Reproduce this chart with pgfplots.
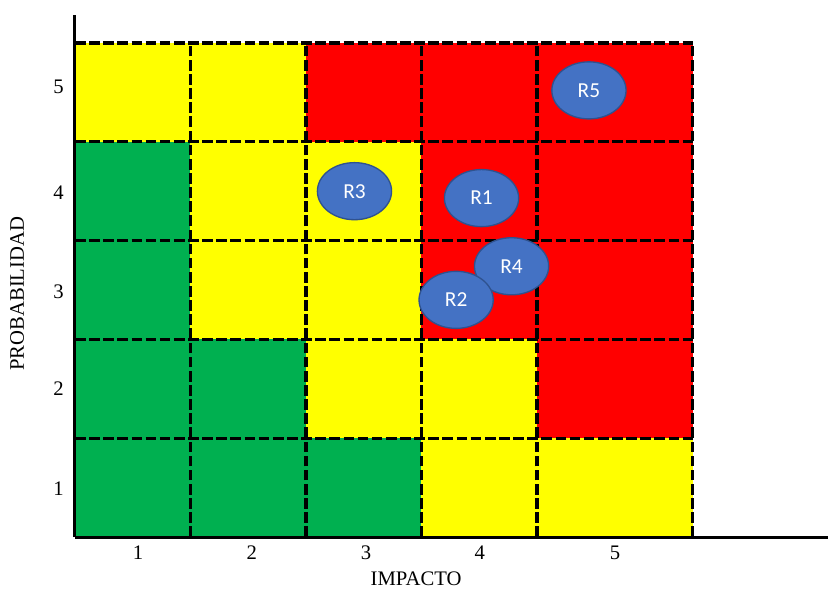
\documentclass[border=0pt]{standalone}
\usepackage{fontspec}
\setmainfont{Liberation Serif}
\newfontfamily\calibri{Carlito}
\usepackage{pgfplots}
\usepackage{pgfplotstable}
\pgfplotsset{compat=1.18}

\definecolor{cgreen}{HTML}{00B050}
\definecolor{cyellow}{HTML}{FFFF00}
\definecolor{cred}{HTML}{FF0000}
\definecolor{bubble}{HTML}{4472C4}
\definecolor{bubbleedge}{HTML}{2F528F}

% risks placed by impact (x) and probability (y)
\pgfplotstableread{
x    y    label
4.95 5.02 R5
2.92 4.00 R3
4.02 3.93 R1
4.28 3.24 R4
3.80 2.90 R2
}\risks

% one cell of the matrix: x0 x1 y0 y1 colour
\newcommand{\cell}[5]{\addplot[fill=#5, draw=none] coordinates {(#1,#3) (#2,#3) (#2,#4) (#1,#4)} --cycle;}
\tikzset{griddash/.style={black, line width=2.4pt, dash pattern=on 8pt off 2.6pt}}

\begin{document}
\begin{tikzpicture}
\begin{axis}[
  scale only axis,
  width=564.75pt, height=391.5pt,
  xmin=0.5, xmax=7.02, ymin=0.5, ymax=5.783,
  axis lines=left,
  axis line style={-, line width=2.25pt},
  axis on top,
  xtick={1.045,2.03,3.02,4.006,5.175}, xticklabels={1,2,3,4,5},
  ytick={0.99,2.0,2.98,3.98,5.06}, yticklabels={1,2,3,4,5},
  major tick length=0pt,
  /pgf/number format/assume math mode=true,
  tick label style={font=\fontsize{15.5}{18}\selectfont},
  xticklabel style={yshift=-3pt},
  yticklabel style={xshift=-5pt},
  xlabel={IMPACTO},
  ylabel={PROBABILIDAD},
  label style={font=\fontsize{15.5}{18}\selectfont},
  xlabel style={at={(axis description cs:0.453,-0.0805)}, anchor=center},
  ylabel style={at={(axis description cs:-0.077,0.466)}, anchor=center, rotate=0},
]
% row 1
\cell{0.5}{1.5}{0.5}{1.5}{cgreen}
\cell{1.5}{2.5}{0.5}{1.5}{cgreen}
\cell{2.5}{3.5}{0.5}{1.5}{cgreen}
\cell{3.5}{4.5}{0.5}{1.5}{cyellow}
\cell{4.5}{5.85}{0.5}{1.5}{cyellow}
% row 2
\cell{0.5}{1.5}{1.5}{2.5}{cgreen}
\cell{1.5}{2.5}{1.5}{2.5}{cgreen}
\cell{2.5}{3.5}{1.5}{2.5}{cyellow}
\cell{3.5}{4.5}{1.5}{2.5}{cyellow}
\cell{4.5}{5.85}{1.5}{2.5}{cred}
% row 3
\cell{0.5}{1.5}{2.5}{3.5}{cgreen}
\cell{1.5}{2.5}{2.5}{3.5}{cyellow}
\cell{2.5}{3.5}{2.5}{3.5}{cyellow}
\cell{3.5}{4.5}{2.5}{3.5}{cred}
\cell{4.5}{5.85}{2.5}{3.5}{cred}
% row 4
\cell{0.5}{1.5}{3.5}{4.5}{cgreen}
\cell{1.5}{2.5}{3.5}{4.5}{cyellow}
\cell{2.5}{3.5}{3.5}{4.5}{cyellow}
\cell{3.5}{4.5}{3.5}{4.5}{cred}
\cell{4.5}{5.85}{3.5}{4.5}{cred}
% row 5
\cell{0.5}{1.5}{4.5}{5.5}{cyellow}
\cell{1.5}{2.5}{4.5}{5.5}{cyellow}
\cell{2.5}{3.5}{4.5}{5.5}{cred}
\cell{3.5}{4.5}{4.5}{5.5}{cred}
\cell{4.5}{5.85}{4.5}{5.5}{cred}
% dashed cell borders
\addplot[griddash] coordinates {(1.5,0.5) (1.5,5.5)};
\addplot[griddash] coordinates {(2.5,0.5) (2.5,5.5)};
\addplot[griddash] coordinates {(3.5,0.5) (3.5,5.5)};
\addplot[griddash] coordinates {(4.5,0.5) (4.5,5.5)};
\addplot[griddash] coordinates {(5.85,0.5) (5.85,5.5)};
\addplot[griddash] coordinates {(0.5,1.5) (5.85,1.5)};
\addplot[griddash] coordinates {(0.5,2.5) (5.85,2.5)};
\addplot[griddash] coordinates {(0.5,3.5) (5.85,3.5)};
\addplot[griddash] coordinates {(0.5,4.5) (5.85,4.5)};
\addplot[griddash] coordinates {(0.5,5.5) (5.85,5.5)};
% risks
\addplot[only marks, mark=*, mark size=21.4pt,
  mark options={xscale=1.3, fill=bubble, draw=bubbleedge, line width=1pt},
  point meta=explicit symbolic, nodes near coords,
  nodes near coords style={anchor=center, text=white, font=\calibri\fontsize{16}{19}\selectfont}]
  table[x=x, y=y, meta=label] {\risks};
\end{axis}
\pgfresetboundingbox
\path ([shift={(-56.25pt,-39.75pt)}]current axis.south west) rectangle ([shift={(0pt,11.25pt)}]current axis.north east);
\end{tikzpicture}
\end{document}
